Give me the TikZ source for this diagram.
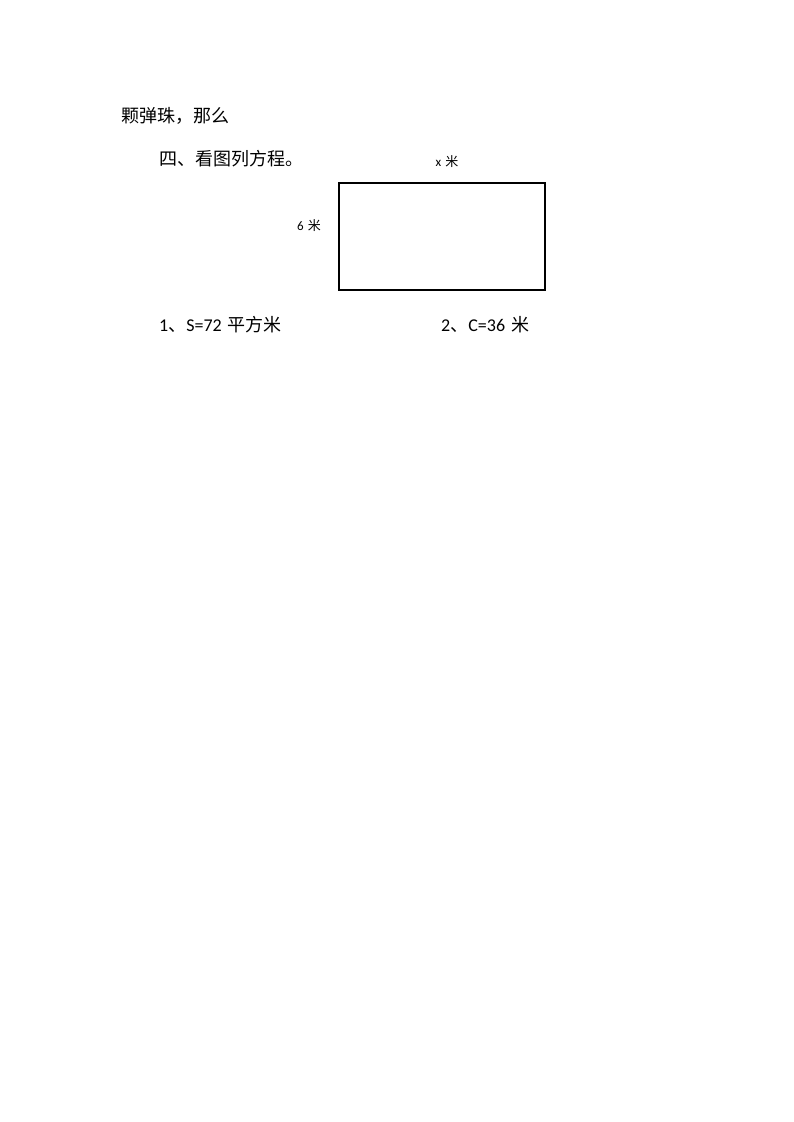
\documentclass[tikz,border=0pt]{standalone}
\usepackage{fontspec}
\setmainfont{Carlito}
\newfontfamily\cjk{Noto Sans CJK SC}
\begin{document}
\begin{tikzpicture}[x=1pt,y=-1pt,
  txt/.style={anchor=west,inner sep=0pt,font=\fontsize{18}{18}\selectfont},
  small/.style={inner sep=0pt,font=\fontsize{13}{13}\selectfont}]
\useasboundingbox[fill=white] (0,0) rectangle (793,1122);
\node[txt] (l1) at (121,116) {\cjk 颗弹珠，那么};
\node[txt] (l2) at (159,159) {\cjk 四、看图列方程。};
\node[draw,line width=2pt,minimum width=206pt,minimum height=107pt,inner sep=0pt,anchor=north west] (rect) at (338,182) {};
\node[small] (xlab) at (447,162) {x\hspace{4pt}{\cjk 米}};
\node[small] (ylab) at (309,226) {6\hspace{4pt}{\cjk 米}};
\node[txt] (q1) at (159,325) {1{\cjk 、}S=72\hspace{6pt}{\cjk 平方米}};
\node[txt] (q2) at (441,325) {2{\cjk 、}C=36\hspace{6pt}{\cjk 米}};
\end{tikzpicture}
\end{document}
